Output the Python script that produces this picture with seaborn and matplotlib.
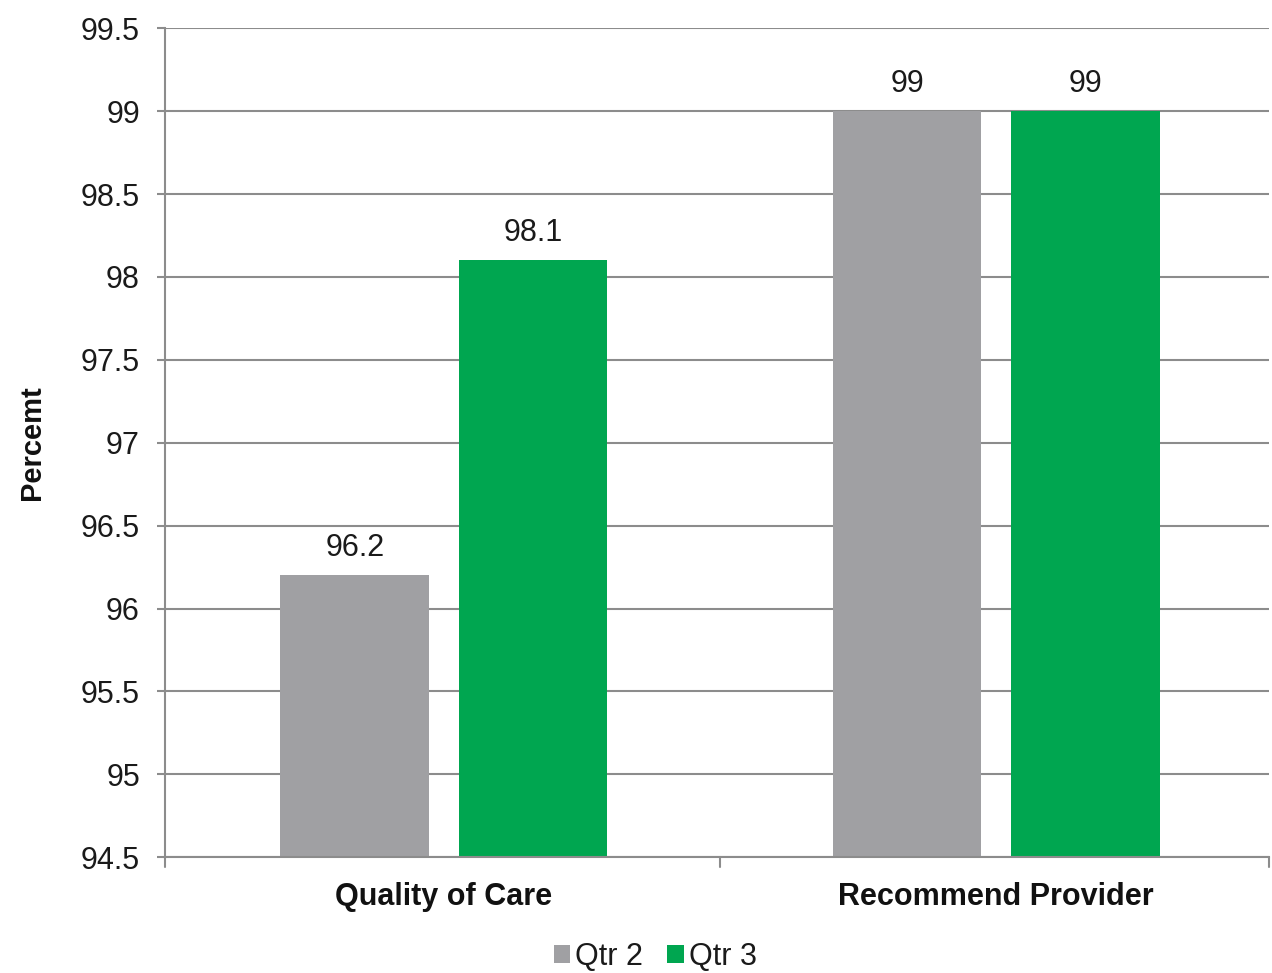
import matplotlib
matplotlib.use("Agg")
import matplotlib.pyplot as plt
import seaborn as sns
import pandas as pd

categories = ["Quality of Care", "Recommend Provider"]
series_names = ["Qtr 2", "Qtr 3"]
qtr2 = [96.2, 99]
qtr3 = [98.1, 99]
yticks = [94.5, 95, 95.5, 96, 96.5, 97, 97.5, 98, 98.5, 99, 99.5]
ytick_labels = ["94.5", "95", "95.5", "96", "96.5", "97", "97.5", "98", "98.5", "99", "99.5"]
colors = ["#A0A0A3", "#00A650"]

df = pd.DataFrame({
    "Category": categories * 2,
    "Series": [series_names[0]] * 2 + [series_names[1]] * 2,
    "Value": qtr2 + qtr3,
})

sns.set_theme(style="white")
plt.rcParams["font.family"] = ["Liberation Sans", "DejaVu Sans"]

fig = plt.figure(figsize=(12.72, 9.73), dpi=100)
ax = fig.add_axes([0.1297, 0.119, 0.8683, 0.852])

sns.barplot(data=df, x="Category", y="Value", hue="Series", palette=colors,
            width=0.645, gap=0.165, ax=ax, legend=True, saturation=1, linewidth=0)

ax.set_ylim(94.5, 99.5)
ax.set_xlim(-0.505, 1.495)
ax.set_yticks(yticks)
ax.set_yticklabels(ytick_labels)
ax.yaxis.grid(True, color="#8C8C8C", linewidth=1.5)
ax.set_axisbelow(True)

for s in ["top", "right"]:
    ax.spines[s].set_visible(False)
for s in ["left", "bottom"]:
    ax.spines[s].set_color("#8C8C8C")
    ax.spines[s].set_linewidth(1.5)

ax.tick_params(axis="y", labelsize=22, colors="#8C8C8C", labelcolor="#1A1A1A",
               length=6, width=1.5, direction="out", left=True, pad=12)
ax.tick_params(axis="x", labelsize=22, bottom=False, labelcolor="#111111", pad=12)
for lbl in ax.get_xticklabels():
    lbl.set_fontweight("bold")

# boundary ticks on x axis
for xb in [-0.505, 0.5, 1.495]:
    ax.plot([xb, xb], [0, -0.012], transform=ax.get_xaxis_transform(),
            color="#8C8C8C", lw=1.5, clip_on=False)

ax.set_xlabel("")
ax.set_ylabel("Percemt", fontsize=21, fontweight="bold", color="#111111", labelpad=0)
ax.yaxis.set_label_coords(-0.108, 0.5)

for cont in ax.containers:
    ax.bar_label(cont, fmt="%g", padding=9, fontsize=22, color="#1A1A1A")

handles, labels = ax.get_legend_handles_labels()
ax.get_legend().remove()
fig.legend(handles, labels, loc="center", bbox_to_anchor=(0.515, 0.0164),
           ncol=2, frameon=False, fontsize=22, handlelength=0.55, handleheight=0.55,
           handletextpad=0.15, columnspacing=0.8, labelcolor="#1A1A1A",
           borderpad=0)

fig.savefig("out.png", dpi=100)
